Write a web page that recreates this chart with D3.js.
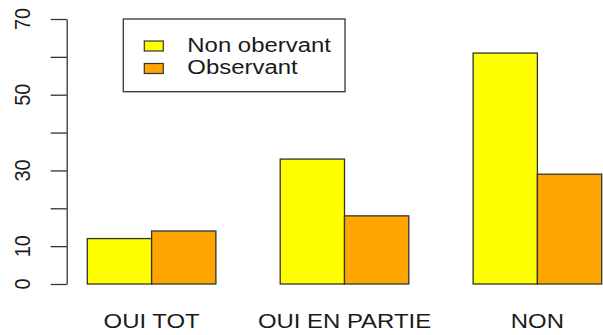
<!DOCTYPE html>
<html>
<head>
<meta charset="utf-8">
<script src="https://cdn.jsdelivr.net/npm/d3@7"></script>
<style>
  html, body { margin: 0; padding: 0; background: #fff; }
  svg { display: block; }
  text { font-family: "Liberation Sans", Arial, sans-serif; fill: #1a1a1a; }
</style>
</head>
<body>
<svg id="chart" width="603" height="335"></svg>
<script>
// Counts per answer, grouped side by side
const categories = ["OUI TOT", "OUI EN PARTIE", "NON"];
const nonObservant = [12, 33, 61];
const observant = [14, 18, 29];
const seriesNames = ["Non obervant", "Observant"];
const seriesColors = ["#FFFF00", "#FFA500"];
const yTicks = [0, 10, 20, 30, 40, 50, 60, 70];
const yLabels = [0, 10, 30, 50, 70];

const series = [nonObservant, observant];
const svg = d3.select("#chart");
const stretch = 1.14;   // glyphs are drawn slightly wide

// Bar slots in barplot units: one empty slot before each group, then one per series
const x = d3.scaleLinear().domain([1, 9]).range([87.3, 601.7]);
const y = d3.scaleLinear().domain([0, 70]).range([284, 19]);

const bars = [];
categories.forEach((c, i) => {
  series.forEach((s, j) => {
    bars.push({ cat: c, j: j, value: s[i], left: 1 + 3 * i + j });
  });
});

svg.append("g").selectAll("rect")
  .data(bars)
  .join("rect")
  .attr("x", d => x(d.left))
  .attr("y", d => y(d.value))
  .attr("width", d => x(d.left + 1) - x(d.left))
  .attr("height", d => y(0) - y(d.value))
  .attr("fill", d => seriesColors[d.j])
  .attr("stroke", "#333")
  .attr("stroke-width", 1.3);

// Category names under the middle of each group
svg.append("g").selectAll("text")
  .data(categories)
  .join("text")
  .attr("transform", (c, i) => `translate(${x(2 + 3 * i)},328.3) scale(${stretch},1)`)
  .attr("text-anchor", "middle")
  .attr("font-size", 21)
  .text(c => c);

// Left axis
const axis = d3.axisLeft(y)
  .tickValues(yTicks)
  .tickSize(16)
  .tickSizeOuter(0)
  .tickFormat("");
const gAxis = svg.append("g")
  .attr("transform", "translate(66.7,0)")
  .call(axis);
gAxis.selectAll("path, line").attr("stroke", "#333").attr("stroke-width", 1.3);

svg.append("g").selectAll("text")
  .data(yLabels)
  .join("text")
  .attr("transform", v => `translate(30,${y(v)}) scale(${stretch},1) rotate(-90)`)
  .attr("text-anchor", "middle")
  .attr("font-size", 20)
  .text(v => v);

// Legend
const legend = svg.append("g");
legend.append("rect")
  .attr("x", 123.3).attr("y", 19)
  .attr("width", 221.7).attr("height", 72.7)
  .attr("fill", "#fff")
  .attr("stroke", "#333")
  .attr("stroke-width", 1.3);

const rowY = d3.scalePoint().domain(seriesNames).range([46, 68.5]);
const items = legend.selectAll("g.item")
  .data(seriesNames)
  .join("g")
  .attr("class", "item");
items.append("rect")
  .attr("x", 144.3)
  .attr("y", d => rowY(d) - 5)
  .attr("width", 19).attr("height", 10)
  .attr("fill", (d, i) => seriesColors[i])
  .attr("stroke", "#333")
  .attr("stroke-width", 1.2);
items.append("text")
  .attr("transform", d => `translate(187.3,${rowY(d) + 5.5}) scale(${stretch},1)`)
  .attr("font-size", 21)
  .text(d => d);
</script>
</body>
</html>
